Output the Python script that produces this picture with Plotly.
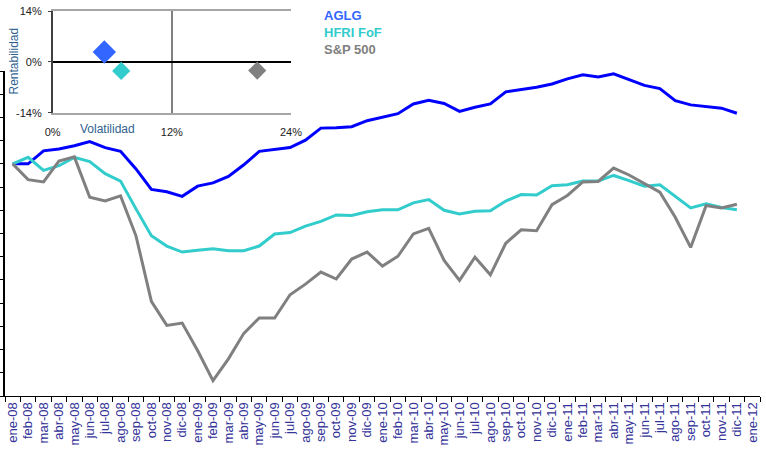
import plotly.graph_objects as go

months = ["ene", "feb", "mar", "abr", "may", "jun", "jul", "ago", "sep", "oct", "nov", "dic"]
categories = [f"{m}-{y:02d}" for y in range(8, 12) for m in months] + ["ene-12"]

aglg = [100, 100, 102.8, 103.2, 103.9, 104.8, 103.5, 102.7, 98.9, 94.5, 94.0, 93.0,
        95.2, 95.9, 97.3, 99.8, 102.7, 103.1, 103.5, 105.1, 107.7, 107.8, 108.0, 109.3,
        110.0, 110.8, 112.9, 113.7, 113.0, 111.3, 112.2, 112.9, 115.5, 116.0, 116.5, 117.2,
        118.3, 119.2, 118.7, 119.4, 118.2, 116.9, 116.2, 113.6, 112.7, 112.4, 112.0, 110.9]
hfri = [100, 101.4, 98.6, 99.6, 101.4, 100.5, 97.9, 96.3, 90.3, 84.5, 82.3, 81.0,
        81.4, 81.7, 81.3, 81.3, 82.3, 84.9, 85.2, 86.6, 87.6, 89.0, 88.9, 89.7,
        90.1, 90.1, 91.6, 92.3, 90.0, 89.2, 89.8, 89.9, 92.0, 93.4, 93.3, 95.3,
        95.5, 96.3, 96.3, 97.5, 96.4, 95.2, 95.5, 93.0, 90.5, 91.4, 90.6, 90.1]
sp500 = [100, 96.6, 96.1, 100.6, 101.5, 92.8, 92.0, 93.1, 84.5, 70.4, 65.2, 65.7,
         59.8, 53.3, 58.0, 63.5, 66.8, 66.8, 71.8, 74.1, 76.7, 75.2, 79.5, 81.0,
         78.0, 80.1, 84.9, 86.1, 79.2, 74.9, 79.9, 76.1, 82.9, 85.8, 85.6, 91.2,
         93.2, 96.1, 96.2, 99.1, 97.6, 95.8, 93.9, 88.5, 82.0, 91.0, 90.5, 91.3]

series_names = ["AGLG", "HFRI FoF", "S&P 500"]
volatilidad = [5.2, 6.9, 20.6]
rentabilidad = [2.7, -2.5, -2.4]

inset_x_ticks = [0, 12, 24]
inset_x_labels = ["0%", "12%", "24%"]
inset_y_ticks = [-14, 0, 14]
inset_y_labels = ["-14%", "0%", "14%"]

line_colors = ["#0000FF", "#33CCCC", "#808080"]
marker_colors = ["#3366FF", "#33CCCC", "#808080"]
marker_sizes = [18, 14, 14]

FONT = "Arial, Liberation Sans, sans-serif"

fig = go.Figure()
for name, vals, col in zip(series_names, [aglg, hfri, sp500], line_colors):
    fig.add_trace(go.Scatter(x=categories[:len(vals)], y=vals, mode="lines", name=name,
                             line=dict(color=col, width=3), xaxis="x", yaxis="y"))

for i, name in enumerate(series_names):
    fig.add_trace(go.Scatter(x=[volatilidad[i]], y=[rentabilidad[i]], mode="markers", name=name,
                             marker=dict(symbol="diamond", size=marker_sizes[i], color=marker_colors[i],
                                         line=dict(width=0)),
                             xaxis="x2", yaxis="y2"))

L, R, T, B = 5, 6, 11, 58
W, H = 766, 454
pw = W - L - R
ph = H - T - B

def px_x(x):
    return (x - L) / pw

def px_y(y):
    return (H - B - y) / ph

fig.update_layout(
    width=W, height=H, autosize=False,
    margin=dict(l=L, r=R, t=T, b=B, autoexpand=False),
    paper_bgcolor="white", plot_bgcolor="white",
    showlegend=False,
    font=dict(family=FONT, size=11, color="#222222"),
    xaxis=dict(domain=[0, 1], type="category", categoryorder="array", categoryarray=categories,
               tickvals=categories, ticktext=categories,
               range=[-0.5, len(categories) - 0.5], tickson="boundaries",
               ticks="outside", ticklen=5, tickcolor="#000000", tickwidth=1,
               showline=True, linecolor="#000000", linewidth=1,
               showgrid=False, zeroline=False, tickangle=-90, automargin=False,
               tickfont=dict(family=FONT, size=13, color="#333399")),
    yaxis=dict(domain=[0, px_y(71)], range=[50, 120], dtick=5, tick0=50,
               ticks="outside", ticklen=5, tickcolor="#000000", tickwidth=1,
               showticklabels=False, showline=True, linecolor="#000000", linewidth=1.5,
               showgrid=False, zeroline=False, automargin=False),
    xaxis2=dict(domain=[px_x(52.7), px_x(291)], anchor="y2", range=[0, 24],
                tickvals=inset_x_ticks, ticktext=inset_x_labels,
                showgrid=True, gridcolor="#808080", gridwidth=1.5,
                showline=True, mirror=True, linecolor="#a6a6a6", linewidth=1.5,
                zeroline=False, ticks="", ticklabelstandoff=8, automargin=False,
                tickfont=dict(family=FONT, size=11, color="#222222")),
    yaxis2=dict(domain=[px_y(112.7), 1], anchor="x2", range=[-14, 14],
                tickvals=inset_y_ticks, ticktext=inset_y_labels,
                showgrid=False, zeroline=True, zerolinecolor="#000000", zerolinewidth=1.5,
                showline=True, linecolor="#404040", linewidth=1.5,
                ticks="outside", ticklen=3, tickcolor="#404040", ticklabelstandoff=4,
                automargin=False,
                tickfont=dict(family=FONT, size=11, color="#222222")),
)

annotations = [
    dict(text="Rentabilidad", x=px_x(14), y=px_y(61.5), xref="paper", yref="paper",
         textangle=-90, showarrow=False, xanchor="center", yanchor="middle",
         font=dict(family=FONT, size=12, color="#2F5F8F")),
    dict(text="Volatilidad", x=px_x(107), y=px_y(128.5), xref="paper", yref="paper",
         showarrow=False, xanchor="center", yanchor="middle",
         font=dict(family=FONT, size=12, color="#2F5F8F")),
]
legend_y = [15.5, 32, 49.5]
for name, col, yy in zip(series_names, marker_colors, legend_y):
    annotations.append(dict(text=f"<b>{name}</b>", x=px_x(322), y=px_y(yy), xref="paper", yref="paper",
                            showarrow=False, xanchor="left", yanchor="middle",
                            font=dict(family=FONT, size=13, color=col)))
fig.update_layout(annotations=annotations)

fig.write_html("out.html", config={"responsive": False, "displayModeBar": False},
               post_script="document.body.style.margin='0';document.body.style.overflow='hidden';")
